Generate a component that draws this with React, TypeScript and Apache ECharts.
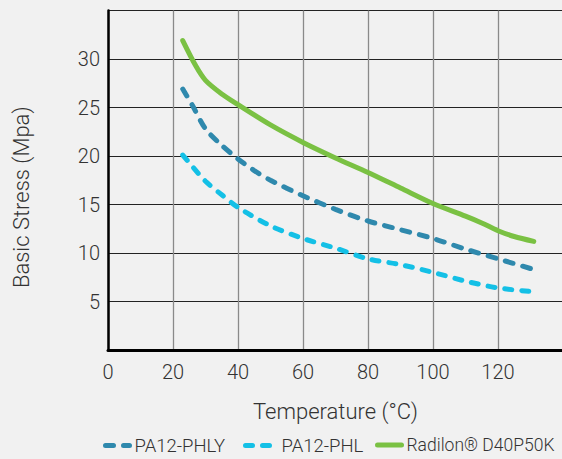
import React, { useEffect, useRef } from "react";
import * as echarts from "echarts";

const xTicks = [0, 20, 40, 60, 80, 100, 120, 140];
const yTicks = [0, 5, 10, 15, 20, 25, 30, 35];

const phlyX = [23, 26, 30, 35, 40, 45, 50, 60, 70, 80, 90, 100, 110, 120, 131];
const phlyY = [26.9, 25.2, 22.8, 21.1, 19.7, 18.5, 17.5, 15.9, 14.5, 13.3, 12.4, 11.5, 10.4, 9.4, 8.3];

const phlX = [23, 26, 30, 35, 40, 50, 60, 70, 80, 90, 100, 110, 120, 131];
const phlY = [20.1, 18.9, 17.4, 16.0, 14.7, 12.8, 11.5, 10.5, 9.4, 8.8, 8.0, 7.1, 6.4, 6.0];

const radX = [23, 27, 30, 35, 40, 50, 60, 70, 80, 90, 100, 110, 115, 120, 125, 131];
const radY = [31.9, 29.3, 27.8, 26.4, 25.3, 23.2, 21.4, 19.8, 18.3, 16.7, 15.1, 13.8, 13.1, 12.3, 11.7, 11.2];

const seriesNames = ["PA12-PHLY", "PA12-PHL", "Radilon® D40P50K"];

const pairs = (xs: number[], ys: number[]) => xs.map((x, i) => [x, ys[i]]);

export default function App() {
  const ref = useRef<HTMLDivElement>(null);
  useEffect(() => {
    document.body.style.margin = "0";
    const chart = echarts.init(ref.current!, null, { renderer: "svg" });
    const font = { fontFamily: "Roboto", fontWeight: 300 as any, color: "#333" };
    const legendBase = {
      top: 431,
      padding: [5, 0, 0, 0],
      itemWidth: 24,
      itemHeight: 12,
      textStyle: { ...font, fontSize: 18.5 },
      itemStyle: { opacity: 0 },
      lineStyle: { width: 5, cap: "round" },
    };
    chart.setOption({
      animation: false,
      backgroundColor: "#f1f1f1",
      grid: { left: 108, top: 10.5, width: 455, bottom: 109, outerBoundsMode: "none" },
      xAxis: {
        type: "value",
        min: xTicks[0],
        max: xTicks[xTicks.length - 1],
        interval: 20,
        name: "Temperature (°C)",
        nameLocation: "middle",
        nameGap: 50,
        nameTextStyle: { ...font, fontSize: 22 },
        axisLine: { show: true, lineStyle: { color: "#000", width: 3 } },
        axisTick: { show: false },
        axisLabel: { ...font, fontSize: 20, margin: 12, showMaxLabel: false },
        splitLine: { show: true, lineStyle: { color: "#8a8a8a", width: 1.3 } },
      },
      yAxis: {
        type: "value",
        min: yTicks[0],
        max: yTicks[yTicks.length - 1],
        interval: 5,
        name: "Basic Stress (Mpa)",
        nameLocation: "middle",
        nameGap: 76,
        nameTextStyle: { ...font, fontSize: 22, padding: [0, 34, 0, 0] },
        axisLine: { show: true, lineStyle: { color: "#000", width: 2.5 } },
        axisTick: { show: false },
        axisLabel: { ...font, fontSize: 20, margin: 8, showMinLabel: false, showMaxLabel: false },
        splitLine: { show: true, lineStyle: { color: "#222", width: 1 } },
      },
      legend: [
        { ...legendBase, left: 103, data: [seriesNames[0]] },
        { ...legendBase, left: 243, data: [seriesNames[1]], textStyle: { ...font, fontSize: 18.5, padding: [0, 0, 0, 7] } },
        { ...legendBase, left: 375, data: [seriesNames[2]], textStyle: { ...font, fontSize: 17.5 } },
      ],
      series: [
        {
          name: seriesNames[0],
          type: "line",
          data: pairs(phlyX, phlyY),
          smooth: 0.3,
          symbol: "none",
          lineStyle: { color: "#2f89ad", width: 5, type: [8, 10], cap: "round" },
          itemStyle: { color: "#2f89ad" },
        },
        {
          name: seriesNames[1],
          type: "line",
          data: pairs(phlX, phlY),
          smooth: 0.3,
          symbol: "none",
          lineStyle: { color: "#14c0e6", width: 5, type: [7, 10], cap: "round" },
          itemStyle: { color: "#14c0e6" },
        },
        {
          name: seriesNames[2],
          type: "line",
          data: pairs(radX, radY),
          smooth: 0.3,
          symbol: "none",
          lineStyle: { color: "#7ac143", width: 5, cap: "round" },
          itemStyle: { color: "#7ac143" },
        },
      ],
    });
    return () => chart.dispose();
  }, []);
  return <div ref={ref} style={{ position: "fixed", left: 0, top: 0, width: 562, height: 459 }} />;
}
